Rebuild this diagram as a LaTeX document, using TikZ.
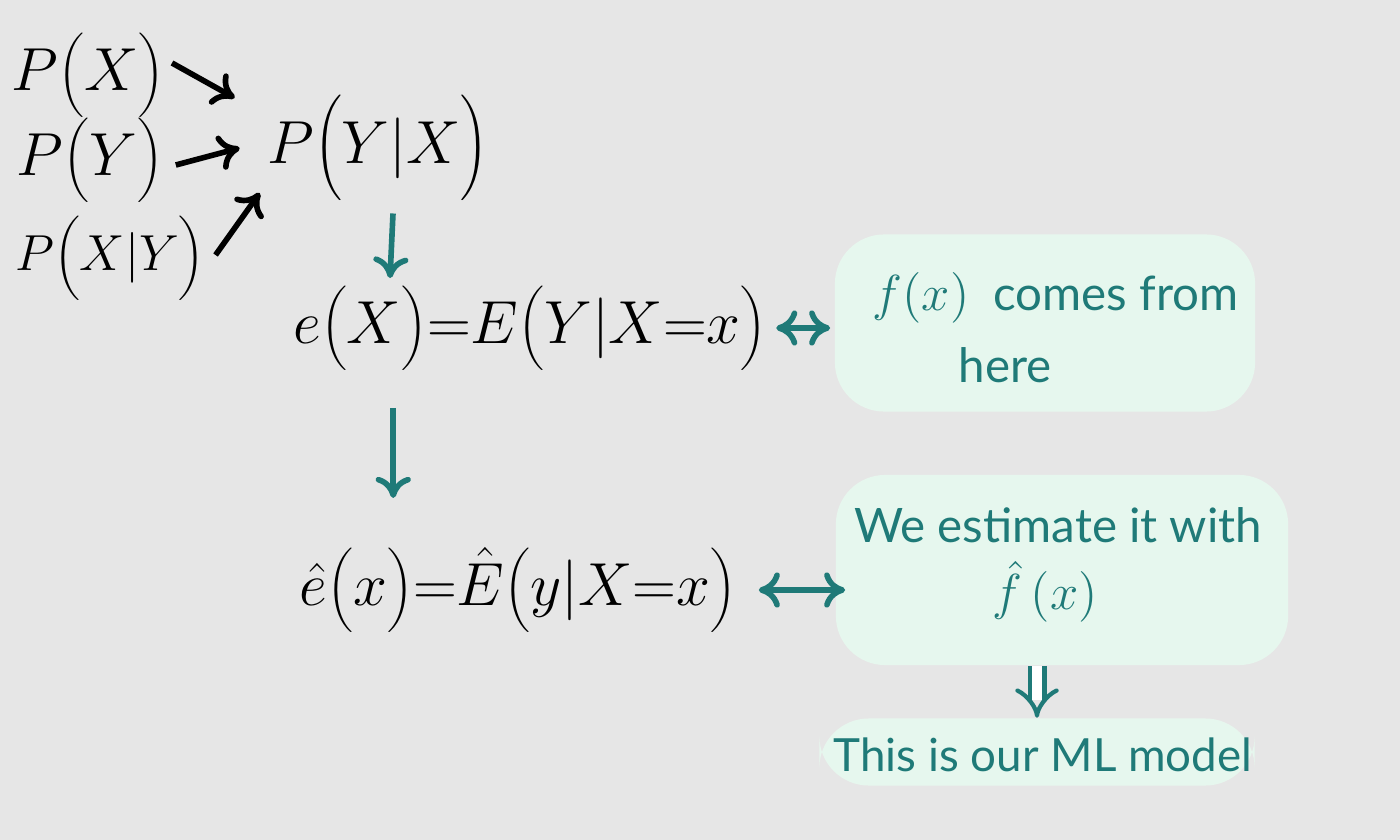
\documentclass[tikz,border=0pt]{standalone}
\usepackage{fontspec}
\setmainfont{Lato}
\usetikzlibrary{arrows.meta,calc}
\definecolor{paper}{HTML}{E6E6E6}
\definecolor{mint}{HTML}{E6F7EE}
\definecolor{tealink}{HTML}{1F7A78}
\newcommand{\tallp}[1]{{\left(\rule[-0.4em]{0pt}{1.4em}#1\right)}}
\tikzset{
  formula/.style={inner sep=2pt, text=black},
  blkarrow/.style={line width=1.6pt, -{To[length=6pt,width=10pt]}, black},
  tlarrow/.style={line width=1.6pt, -{To[length=6pt,width=10pt]}, tealink},
  tlboth/.style={line width=1.6pt, {To[length=6pt,width=10pt]}-{To[length=6pt,width=10pt]}, tealink},
  notebox/.style={fill=mint, rounded corners=14pt, inner sep=0pt},
  note/.style={text=tealink, font=\fontsize{13.5}{16}\selectfont, inner sep=0pt}
}
\begin{document}
\begin{tikzpicture}[x=0.01cm, y=-0.01cm]
  \fill[paper] (0,0) rectangle (1400,840);
  \useasboundingbox (0,0) rectangle (1400,840);
  % === Distributions ===
  \node[formula, font=\fontsize{16}{20}\selectfont] (px)  at (88,75)   {$P\tallp{X}$};
  \node[formula, font=\fontsize{16}{20}\selectfont] (py)  at (90,160)  {$P\tallp{Y}$};
  \node[formula, font=\fontsize{15}{18}\selectfont] (pxy) at (110,258) {$P\tallp{X|Y}$};
  \node[formula, font=\fontsize{18}{22}\selectfont] (pyx) at (378,148) {$P\tallp{Y|X}$};
  % === Regression function and its estimate ===
  \node[formula, font=\fontsize{16}{20}\selectfont] (e)    at (530,328) {$e\tallp{X}{=}E\tallp{Y|X{=}x}$};
  \node[formula, font=\fontsize{16}{20}\selectfont] (ehat) at (518,590) {$\hat e\tallp{x}{=}\hat E\tallp{y|X{=}x}$};
  % === Notes ===
  \node[notebox, minimum width=4.2cm, minimum height=1.77cm] (box1) at (1045,323) {};
  \node[note, anchor=west] (n1a) at (872,298) {$f(x)$ \ comes from};
  \node[note, anchor=west] (n1b) at (958,365) {here};
  \node[notebox, minimum width=4.52cm, minimum height=1.9cm] (box2) at (1062,570) {};
  \node[note] (n2a) at (1058,525) {We estimate it with};
  \node[note] (n2b) at (1045,592) {$\hat f\,(x)$};
  \node[notebox, minimum width=4.35cm, minimum height=0.67cm] (box3) at (1037,752) {};
  \node[note, font=\fontsize{13}{16}\selectfont] (n3) at (1043,755) {This is our ML model};
  % === Arrows ===
  \draw[blkarrow] ($(px.east)+(0,-12)$) -- ($(pyx.west)+(-25,-50)$);
  \draw[blkarrow] ($(py.east)+(5,5)$) -- ($(pyx.west)+(-20,0)$);
  \draw[blkarrow] ($(pxy.east)+(3,-3)$) -- ($(pyx.west)+(0,45)$);
  \draw[tlarrow] ($(pyx.south)+(15,5)$) -- ($(pyx.south |- e.north)+(12,0)$);
  \draw[tlarrow] ($(e.south west)!0.22!(e.south east)+(0,30)$) -- ($(e.south west)!0.22!(e.south east)+(0,120)$);
  \draw[tlboth, shorten <=0.02cm, shorten >=0.04cm] (e.east) -- (e.east -| box1.west);
  \draw[tlboth, shorten <=0.15cm, shorten >=-0.1cm] (ehat.east) -- (ehat.east -| box2.west);
  \draw[tealink, line width=1.2pt, double distance=3pt, -{Implies}] (box2.south -| box3.north) -- (box3.north);
\end{tikzpicture}
\end{document}
